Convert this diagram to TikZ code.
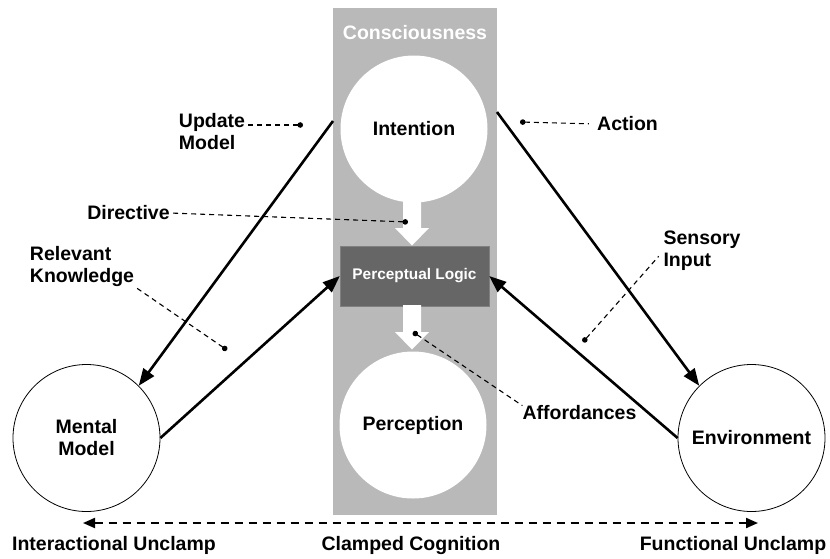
\documentclass[tikz,border=0pt]{standalone}
\usepackage{fontspec}
\setmainfont{Liberation Sans}
\usetikzlibrary{arrows.meta}
\definecolor{panel}{HTML}{B9B9B9}
\definecolor{logicgray}{HTML}{666666}
\tikzset{
  bubble/.style={circle,fill=white,line width=0.8pt,minimum size=147pt,inner sep=0pt,
    font=\bfseries\fontsize{19.5}{22}\selectfont,align=center},
  tag/.style={inner sep=0pt,align=left,font=\bfseries\fontsize{19.5}{22}\selectfont},
  link/.style={line width=2.6pt,-{Triangle[length=17pt,width=13pt]}},
  pointer/.style={line width=1.1pt,dash pattern=on 5pt off 4pt,{Circle[length=5.5pt]}-},
}
\begin{document}
\begin{tikzpicture}[x=1pt,y=-1pt]
\useasboundingbox (0,0) rectangle (830,558);
\node[fill=panel,minimum width=164pt,minimum height=507pt,inner sep=0pt](con) at(415,261.5){};
\node[tag,text=white](contitle) at(415,33){Consciousness};
\node[bubble](int) at(414,129){Intention};
\node[bubble](per) at(413,425){Perception};
\node[fill=logicgray,draw=gray,minimum width=149pt,minimum height=60pt,text=white,
  font=\bfseries\fontsize{15.4}{18}\selectfont](logic) at(414.5,276){Perceptual Logic};
\foreach \ya/\yb in {198/228,305/332}
\fill[white] (403,\ya)--(403,\yb)--(395,\yb)--(412,\yb+17.5)--(429,\yb)--(421,\yb)--(421,\ya)--cycle;
\node[bubble,draw](mental) at(86.5,438){Mental\\Model};
\node[bubble,draw](env) at(751.5,438){Environment};
\coordinate (updstart) at(333,121);
\coordinate (actstart) at(497,112);
\draw[link] (updstart)--(mental.45);
\draw[link] (mental.east)--(logic.west);
\draw[link] (actstart)--(env.135);
\draw[link] (env.west)--(logic.east);
\node[tag](updlbl) at(212,132){Update\\Model};
\node[tag](dirlbl) at(128.5,213){Directive};
\node[tag](rellbl) at(82,266){Relevant\\Knowledge};
\node[tag](actlbl) at(627.5,124){Action};
\node[tag](senlbl) at(702,251){Sensory\\Input};
\node[tag](afflbl) at(579.5,413){Affordances};
\node[tag](intlbl) at(114,545){Interactional Unclamp};
\node[tag](clplbl) at(411,545){Clamped Cognition};
\node[tag](funlbl) at(733,545){Functional Unclamp};
\coordinate (upddot) at(303,125);
\coordinate (dirdot) at(408,222);
\coordinate (reldot) at(227,350);
\coordinate (actdot) at(520,122);
\coordinate (sendot) at(583,342);
\coordinate (affdot) at(413,332);
\draw[pointer,shorten >=3pt] (upddot)--(updlbl.east |- upddot);
\draw[pointer,shorten >=2pt] (dirdot)--(dirlbl.east);
\draw[pointer] (reldot)--(rellbl.south east);
\draw[pointer,shorten >=8pt] (actdot)--(actlbl.west);
\draw[pointer,shorten >=7pt] (sendot)--(senlbl.west);
\draw[pointer] (affdot)--(afflbl.north west);
\coordinate (leftend) at(83,523);
\coordinate (rightend) at(758,523);
\draw[line width=2pt,dash pattern=on 8pt off 6pt,
  {Triangle[length=12pt,width=10pt]}-{Triangle[length=12pt,width=10pt]}] (leftend)--(rightend);
\end{tikzpicture}
\end{document}
